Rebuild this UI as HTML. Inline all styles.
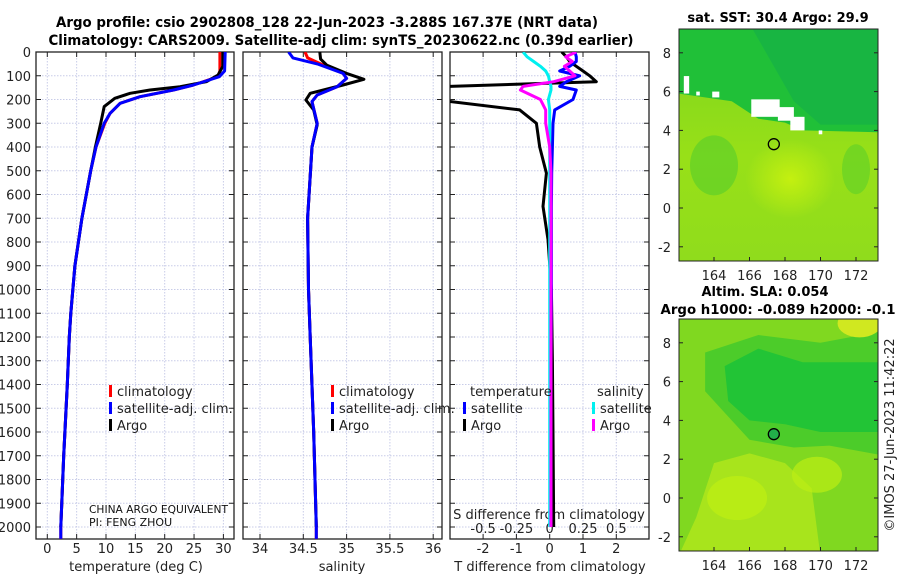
<!DOCTYPE html>
<html><head><meta charset="utf-8"><style>
html,body{margin:0;padding:0;background:#fff;}
svg{display:block;font-family:"DejaVu Sans","Liberation Sans",sans-serif;}
</style></head><body>
<svg id="fig" width="900" height="580" viewBox="0 0 900 580">
<g id="titles" font-weight="bold" font-size="14" text-anchor="middle" fill="#000">
<text x="327" y="27" textLength="542" lengthAdjust="spacingAndGlyphs">Argo profile: csio 2902808_128 22-Jun-2023 -3.288S 167.37E (NRT data)</text>
<text x="341" y="45" textLength="585" lengthAdjust="spacingAndGlyphs">Climatology: CARS2009. Satellite-adj clim: synTS_20230622.nc (0.39d earlier)</text>
</g>
<defs>
<clipPath id="c1"><rect x="36" y="52" width="198" height="487"/></clipPath>
<clipPath id="c2"><rect x="243" y="52" width="199" height="487"/></clipPath>
<clipPath id="c3"><rect x="450" y="52" width="199" height="487"/></clipPath>
<clipPath id="m1"><rect x="679" y="29" width="199" height="232"/></clipPath>
<clipPath id="m2"><rect x="679" y="319" width="199" height="232"/></clipPath>
<linearGradient id="g1" x1="0" y1="0" x2="0" y2="1">
<stop offset="0" stop-color="#7cd41e"/><stop offset="0.55" stop-color="#98e018"/><stop offset="1" stop-color="#90dc1c"/></linearGradient>
<radialGradient id="g2" cx="0.5" cy="0.5" r="0.5"><stop offset="0" stop-color="#c4f010"/><stop offset="1" stop-color="#c4f010" stop-opacity="0"/></radialGradient>
</defs>
<g id="panels"></g>
<g id="maps"></g>
</svg>
<script>
// ---------- data ----------
const depthTicks=[0,100,200,300,400,500,600,700,800,900,1000,1100,1200,1300,1400,1500,1600,1700,1800,1900,2000];
const tempTicks=[0,5,10,15,20,25,30];
const salTicks=[34,34.5,35,35.5,36];
const dTTicks=[-2,-1,0,1,2];
const dSTicks=[-0.5,-0.25,0,0.25,0.5];
const dSTickLabels=["-0.5","-0.25","0","0.25","0.5"];

const argoTdepth=[0,60,97,125,146,160,174,195,230,300,400,500,700,900,1100,1200,1400,1700,2000];
const argoT=[29.9,29.9,29.1,27.1,22.6,17.5,14.1,11.5,9.7,9.1,8.2,7.4,5.9,4.7,4.0,3.75,3.4,2.8,2.3];
const climTdepth=[0,80,104,139,160,188,216,258,300,400,500,700,900,1100,1200,1400,1700,2000,2050];
const climT=[29.4,29.4,29.1,24.9,21.5,15.8,12.4,10.7,9.8,8.3,7.4,5.9,4.7,4.0,3.75,3.4,2.8,2.3,2.3];
const satT=[30.3,30.2,29.3,24.9,21.5,15.8,12.4,10.7,9.7,8.3,7.4,5.9,4.7,4.0,3.75,3.4,2.8,2.3,2.3];

const argoSdepth=[0,30,55,90,115,139,174,202,244,307,400,700,1000,1200,1600,2000];
const argoS=[34.69,34.7,34.77,35.0,35.2,34.96,34.58,34.53,34.62,34.66,34.6,34.55,34.56,34.58,34.62,34.65];
const climSdepth=[0,25,50,90,111,146,181,209,300,400,700,1000,1200,1600,2000,2050];
const climS=[34.52,34.55,34.7,34.96,35.0,34.89,34.66,34.6,34.66,34.6,34.55,34.56,34.58,34.62,34.65,34.65];
const satS=[34.33,34.38,34.66,34.96,35.0,34.89,34.66,34.6,34.66,34.6,34.55,34.56,34.58,34.62,34.65,34.65];

const dDepth=[0,20,40,60,80,100,125,145,160,200,244,300,400,510,650,790,1000,1300,1600,2000];
const dTargo=[0.36,0.5,0.6,0.8,1.0,1.2,1.4,-3,-3.5,-3.5,-0.9,-0.4,-0.3,-0.1,-0.2,-0.05,0.05,0.08,0.1,0.12];
const dTsat=[0.76,0.8,0.8,0.6,0.3,0.9,0.5,0.3,0.8,0.7,0.15,0.1,0.08,0.06,0.05,0.05,0.05,0.04,0.03,0.02];
const dSsat=[-0.2,-0.17,-0.12,-0.07,-0.03,-0.01,0,0.01,0.01,-0.01,0,0,0,0,0,0,0,0,0,0];
const dSargo=[0.2,0.12,0.17,0.11,0.15,0.19,0.03,-0.2,-0.22,-0.07,-0.03,-0.03,0,0.01,0.01,0.01,0.01,0.01,0.01,0.01];

// ---------- scales ----------
const yD=d=>52+d*0.2375;
const xT=t=>47.3+t*5.87;
const xS=s=>260+(s-34)*86.6;
const xdT=t=>549.7+t*33.3;
const xdS=s=>549.7+s*133.2;

const NS="http://www.w3.org/2000/svg";
function el(tag,attrs,parent,txt){const e=document.createElementNS(NS,tag);for(const k in attrs)e.setAttribute(k,attrs[k]);if(txt!==undefined)e.textContent=txt;parent.appendChild(e);return e;}
const P=document.getElementById('panels');

const panels=[{x:36,w:198,clip:'c1'},{x:243,w:199,clip:'c2'},{x:450,w:199,clip:'c3'}];
const xGrids=[tempTicks.map(xT),salTicks.map(xS),dTTicks.map(xdT)];
panels.forEach((p,i)=>{
  const g=el('g',{},P);
  
  
  depthTicks.forEach(d=>{
    const l=el('line',{x1:p.x,x2:p.x+p.w,y1:yD(d),y2:yD(d),stroke:'#c8cce8','stroke-dasharray':'1.5,1.5','stroke-width':1},g);
    
    
    el('line',{x1:p.x,x2:p.x+5,y1:yD(d),y2:yD(d),stroke:'#222'},g);
    el('line',{x1:p.x+p.w-5,x2:p.x+p.w,y1:yD(d),y2:yD(d),stroke:'#222'},g);
  });
  xGrids[i].forEach(x=>{
    const l=el('line',{x1:x,x2:x,y1:52,y2:539,stroke:'#c8cce8','stroke-dasharray':'1.5,1.5','stroke-width':1},g);
    
    
    el('line',{x1:x,x2:x,y1:534,y2:539,stroke:'#222'},g);
    el('line',{x1:x,x2:x,y1:52,y2:57,stroke:'#222'},g);
  });
  const r=el('rect',{x:p.x,y:52,width:p.w,height:487,fill:'none',stroke:'#222','stroke-width':1.3},g);
  
  
});
const yl=el('g',{'font-size':13,'text-anchor':'end',fill:'#222'},P);


depthTicks.forEach(d=>{el('text',{x:31,y:yD(d)+5},yl,String(d));});
function xlabels(ticks,fn,labels,y,name){
  const g=el('g',{'font-size':13,'text-anchor':'middle',fill:'#222'},P);
  
  
  ticks.forEach((t,i)=>el('text',{x:fn(t),y:y},g,labels?labels[i]:String(t)));
}
xlabels(tempTicks,xT,null,553,'x-axis-temperature-labels');
xlabels(salTicks,xS,null,553,'x-axis-salinity-labels');
xlabels(dTTicks,xdT,null,553,'x-axis-t-difference-labels');
xlabels(dSTicks,xdS,dSTickLabels,533,'x-axis-s-difference-labels');
const at=el('g',{'font-size':13,'text-anchor':'middle',fill:'#222'},P);


el('text',{x:136,y:571},at,'temperature (deg C)');
el('text',{x:342,y:571},at,'salinity');
el('text',{x:550,y:571},at,'T difference from climatology');
el('text',{x:549,y:519},at,'S difference from climatology');

function line(depths,vals,fn,color,clip,name,w){
  const pts=depths.map((d,i)=>fn(vals[i]).toFixed(1)+','+yD(d).toFixed(1)).join(' ');
  const l=el('polyline',{points:pts,fill:'none',stroke:color,'stroke-width':w||3,'stroke-linejoin':'round','clip-path':'url(#'+clip+')'},P);
  
  
}
line(climTdepth,climT,xT,'#ff0000','c1','climatology-temperature-line');
line(argoTdepth,argoT,xT,'#000','c1','argo-temperature-line');
line(climTdepth,satT,xT,'#0000ff','c1','satellite-temperature-line');
line(climSdepth,climS,xS,'#ff0000','c2','climatology-salinity-line');
line(argoSdepth,argoS,xS,'#000','c2','argo-salinity-line');
line(climSdepth,satS,xS,'#0000ff','c2','satellite-salinity-line');
line(dDepth,dTargo,xdT,'#000','c3','argo-t-difference-line');
line(dDepth,dTsat,xdT,'#0000ff','c3','satellite-t-difference-line');
line(dDepth,dSsat,xdS,'#00f0f0','c3','satellite-s-difference-line');
line(dDepth,dSargo,xdS,'#ff00ff','c3','argo-s-difference-line');

function legend(x,y,color,label,name){
  const g=el('g',{},P);
  
  
  el('rect',{x:x,y:y-11,width:3,height:12,fill:color},g);
  el('text',{x:x+8,y:y,'font-size':13,fill:'#222'},g,label);
}
legend(109,396,'#ff0000','climatology','legend-entry-climatology');
legend(109,413,'#0000ff','satellite-adj. clim.','legend-entry-satellite-adj');
legend(109,430,'#000','Argo','legend-entry-argo');
legend(331,396,'#ff0000','climatology','legend-entry-climatology-sal');
legend(331,413,'#0000ff','satellite-adj. clim.','legend-entry-satellite-adj-sal');
legend(331,430,'#000','Argo','legend-entry-argo-sal');
legend(463,413,'#0000ff','satellite','legend-entry-t-satellite');
legend(463,430,'#000','Argo','legend-entry-t-argo');
legend(592,413,'#00f0f0','satellite','legend-entry-s-satellite');
legend(592,430,'#ff00ff','Argo','legend-entry-s-argo');
const lh=el('g',{'font-size':13,fill:'#222'},P);


el('text',{x:470,y:396},lh,'temperature');
el('text',{x:597,y:396},lh,'salinity');
const pi=el('g',{'font-size':11,fill:'#111'},P);


el('text',{x:89,y:513,textLength:139,lengthAdjust:'spacingAndGlyphs'},pi,'CHINA ARGO EQUIVALENT');
el('text',{x:89,y:526},pi,'PI: FENG ZHOU');

// ---------- maps ----------
const latTicks=[8,6,4,2,0,-2];
const lonTicks=[164,166,168,170,172];
const M=document.getElementById('maps');
function drawAxes(top,bot,lx,ly,name){
  const g=el('g',{},M);
  
  
  el('rect',{x:679,y:top,width:199,height:bot-top,fill:'none',stroke:'#222','stroke-width':1},g);
  latTicks.forEach(v=>{
    el('line',{x1:679,x2:683,y1:ly(v),y2:ly(v),stroke:'#222'},g);
    el('line',{x1:874,x2:878,y1:ly(v),y2:ly(v),stroke:'#222'},g);
    el('text',{x:671,y:ly(v)+5,'font-size':13,'text-anchor':'end',fill:'#222'},g,String(v));
  });
  lonTicks.forEach(v=>{
    el('line',{x1:lx(v),x2:lx(v),y1:bot-4,y2:bot,stroke:'#222'},g);
    el('text',{x:lx(v),y:bot+19,'font-size':13,'text-anchor':'middle',fill:'#222'},g,String(v));
  });
}
(function(){
  const top=29,bot=261;
  const lx=lon=>714+(lon-164)*17.75;
  const ly=lat=>208-lat*19.4;
  const g=el('g',{'clip-path':'url(#m1)'},M);
  
  
  el('rect',{x:679,y:29,width:199,height:232,fill:'url(#g1)'},g);
  el('ellipse',{cx:lx(168.3),cy:ly(1.5),rx:45,ry:40,fill:'url(#g2)'},g);
  el('ellipse',{cx:lx(164),cy:ly(2.2),rx:24,ry:30,fill:'#40c830',opacity:0.45},g);
  el('ellipse',{cx:lx(172),cy:ly(2),rx:14,ry:25,fill:'#40c830',opacity:0.4},g);
  el('polygon',{points:[[162,9.5],[173.5,9.5],[173.5,3.9],[169,4.0],[168,4.4],[166.5,4.6],[165,5.5],[162,5.9]].map(p=>lx(p[0])+','+ly(p[1])).join(' '),fill:'#20c038'},g);
  el('polygon',{points:[[166,9.5],[173.5,9.5],[173.5,4.3],[170,4.3],[168.5,5.5]].map(p=>lx(p[0])+','+ly(p[1])).join(' '),fill:'#10a850',opacity:0.45},g);
  [[166.1,5.6,1.6,0.9],[167.6,5.2,0.9,0.7],[168.3,4.7,0.8,0.7],[162.3,6.8,0.3,0.9],[163.9,6.0,0.4,0.3],[163.0,6.0,0.2,0.2],[169.9,4.0,0.2,0.2]].forEach(c=>{
    el('rect',{x:lx(c[0]),y:ly(c[1]),width:c[2]*17.75,height:c[3]*19.4,fill:'#fff'},g);});
  const circ=el('circle',{cx:lx(167.37),cy:ly(3.29),r:5.5,fill:'none',stroke:'#000','stroke-width':1.3},g);
  
  
  drawAxes(top,bot,lx,ly,'sst-map-axes');
  const t=el('text',{x:778,y:22,'font-size':13,'font-weight':'bold','text-anchor':'middle'},M,'sat. SST: 30.4 Argo: 29.9');
  
  
})();
(function(){
  const top=319,bot=551;
  const lx=lon=>714+(lon-164)*17.75;
  const ly=lat=>498-lat*19.4;
  const g=el('g',{'clip-path':'url(#m2)'},M);
  
  
  el('rect',{x:679,y:319,width:199,height:232,fill:'#a8e41c'},g);
  el('polygon',{points:[[162,9.5],[173.5,9.5],[173.5,-3],[170,-3],[169.5,0.5],[168,1.8],[166,2.3],[164,1.8],[163,-1],[162,-3]].map(p=>lx(p[0])+','+ly(p[1])).join(' '),fill:'#80d820'},g);
  el('polygon',{points:[[163.5,7.5],[166.5,8.4],[170,8],[173.5,8.6],[173.5,2.2],[170.5,2.7],[168.5,2.6],[166,3],[164.5,4.5],[163.5,5.5]].map(p=>lx(p[0])+','+ly(p[1])).join(' '),fill:'#4ccc2a'},g);
  el('polygon',{points:[[164.6,6.8],[166.5,7.7],[169,7],[173.5,7],[173.5,3.4],[170,3.4],[168,3.8],[166,4],[164.8,5]].map(p=>lx(p[0])+','+ly(p[1])).join(' '),fill:'#22c436'},g);
  el('ellipse',{cx:lx(172.2),cy:ly(9),rx:22,ry:14,fill:'#d0e820'},g);
  el('ellipse',{cx:lx(165.3),cy:ly(0),rx:30,ry:22,fill:'#bcee14',opacity:0.8},g);
  el('ellipse',{cx:lx(169.8),cy:ly(1.2),rx:25,ry:18,fill:'#bcee14',opacity:0.7},g);
  const circ=el('circle',{cx:lx(167.37),cy:ly(3.29),r:5.5,fill:'#22b04a',stroke:'#000','stroke-width':1.3},g);
  
  
  drawAxes(top,bot,lx,ly,'sla-map-axes');
  const t=el('g',{'font-size':13,'font-weight':'bold','text-anchor':'middle'},M);
  
  
  el('text',{x:765,y:296},t,'Altim. SLA: 0.054');
  el('text',{x:778,y:314,textLength:235,lengthAdjust:'spacingAndGlyphs'},t,'Argo h1000: -0.089 h2000: -0.1');
})();
const cp=el('text',{x:0,y:0,'font-size':13,fill:'#222','text-anchor':'middle',transform:'translate(894,435) rotate(-90)'},M,'©IMOS 27-Jun-2023 11:42:22');


</script>
</body></html>
